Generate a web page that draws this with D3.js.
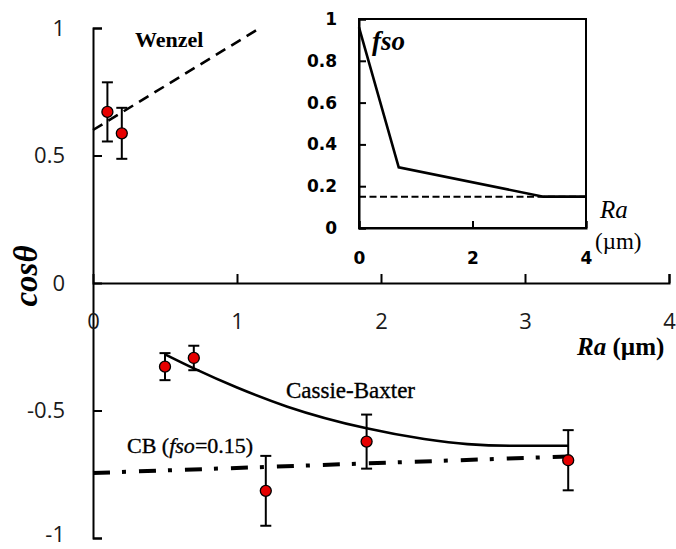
<!DOCTYPE html>
<html>
<head>
<meta charset="utf-8">
<script src="https://cdn.jsdelivr.net/npm/d3@7"></script>
<style>
  html, body { margin: 0; padding: 0; background: #fff; }
  svg { display: block; }
</style>
</head>
<body>
<svg id="chart" width="676" height="549"></svg>
<script>
// Measured contact angles (cos θ) against roughness Ra, with error bars
const wenzelRa = [0.1, 0.2];
const wenzelCos = [0.671, 0.587];
const wenzelErr = [0.116, 0.1];

const cassieRa = [0.5, 0.7, 1.2, 1.9, 3.3];
const cassieCos = [-0.328, -0.294, -0.815, -0.622, -0.695];
const cassieErr = [0.053, 0.048, 0.137, 0.106, 0.118];

// Wenzel model line
const wenzelLineRa = [0, 1.16];
const wenzelLineCos = [0.6, 1.0];

// Cassie-Baxter model curve
const cbCurveRa = [0.5, 0.7, 1.0, 1.35, 1.9, 2.3, 2.6, 2.9, 3.3];
const cbCurveCos = [-0.28, -0.335, -0.41, -0.485, -0.57, -0.612, -0.632, -0.638, -0.638];

// Cassie-Baxter with constant fso = 0.15
const cbConstRa = [0, 3.3];
const cbConstCos = [-0.745, -0.68];

// Inset: solid fraction fso against Ra
const fsoRa = [0, 0.7, 3.25, 4];
const fsoVal = [0.96, 0.29, 0.15, 0.15];
const fsoConstRa = [0, 4];
const fsoConstVal = [0.15, 0.15];

// Tick values
const mainXTicks = [0, 1, 2, 3, 4];
const mainYTicks = [-1, -0.5, 0, 0.5, 1];
const insetXTicks = [0, 2, 4];
const insetYTicks = [0, 0.2, 0.4, 0.6, 0.8, 1];

const svg = d3.select("#chart");

const x = d3.scaleLinear().domain([0, 4]).range([93, 669]);
const y = d3.scaleLinear().domain([-1, 1]).range([538, 28]);

const tickFont = "'Open Sans', sans-serif";
const serif = "'Liberation Serif', 'Times New Roman', serif";
const plain = d => String(d);

// ---- main axes ----
const yAxis = d3.axisLeft(y).tickValues(mainYTicks).tickSize(-9).tickPadding(28)
  .tickFormat(plain);
const gy = svg.append("g").attr("transform", `translate(${x(0)},0)`).call(yAxis);

const xAxis = d3.axisBottom(x).tickValues(mainXTicks).tickSize(-9).tickPadding(30)
  .tickFormat(plain);
const gx = svg.append("g").attr("transform", `translate(0,${y(0)})`).call(xAxis);

[gx, gy].forEach(g => {
  g.select(".domain").attr("stroke", "#000").attr("stroke-width", 2);
  g.selectAll(".tick line").attr("stroke", "#000").attr("stroke-width", 2);
  g.selectAll(".tick text").attr("fill", "#1a1a1a")
    .style("font-family", tickFont).style("font-size", "22px");
});
gx.selectAll(".tick").filter(d => d === 0).select("line").remove();
// keep the lowest label inside the frame
gy.selectAll(".tick").filter(d => d === -1).select("text").attr("dy", "0.18em");

// ---- model lines ----
const line = d3.line().x(d => x(d[0])).y(d => y(d[1]));

svg.append("path")
  .datum(d3.zip(wenzelLineRa, wenzelLineCos))
  .attr("d", line)
  .attr("fill", "none").attr("stroke", "#000").attr("stroke-width", 2.6)
  .attr("stroke-dasharray", "11,7");

svg.append("path")
  .datum(d3.zip(cbConstRa, cbConstCos))
  .attr("d", line)
  .attr("fill", "none").attr("stroke", "#000").attr("stroke-width", 4)
  .attr("stroke-dasharray", "17,12,4,13");

svg.append("path")
  .datum(d3.zip(cbCurveRa, cbCurveCos))
  .attr("d", line.curve(d3.curveMonotoneX))
  .attr("fill", "none").attr("stroke", "#000").attr("stroke-width", 2.6);

// ---- data points with error bars ----
function drawPoints(ra, cos, err) {
  const data = ra.map((r, i) => ({ r, c: cos[i], e: err[i] }));
  const g = svg.append("g");
  const cap = 5.5;
  data.forEach(d => {
    const px = x(d.r);
    g.append("line").attr("x1", px).attr("x2", px)
      .attr("y1", y(d.c + d.e)).attr("y2", y(d.c - d.e))
      .attr("stroke", "#000").attr("stroke-width", 2);
    [d.c + d.e, d.c - d.e].forEach(v => {
      g.append("line").attr("x1", px - cap).attr("x2", px + cap)
        .attr("y1", y(v)).attr("y2", y(v))
        .attr("stroke", "#000").attr("stroke-width", 2);
    });
  });
  g.selectAll("circle").data(data).join("circle")
    .attr("cx", d => x(d.r)).attr("cy", d => y(d.c)).attr("r", 5.5)
    .attr("fill", "#e60000").attr("stroke", "#000").attr("stroke-width", 1.3);
}
drawPoints(wenzelRa, wenzelCos, wenzelErr);
drawPoints(cassieRa, cassieCos, cassieErr);

// ---- main labels ----
svg.append("text").attr("x", 135).attr("y", 47)
  .style("font-family", serif).style("font-size", "22px").style("font-weight", "bold")
  .text("Wenzel");

svg.append("text").attr("x", 286).attr("y", 398)
  .style("font-family", serif).style("font-size", "23px")
  .attr("stroke", "#000").attr("stroke-width", 0.35)
  .text("Cassie-Baxter");

const cbLabel = svg.append("text").attr("x", 127).attr("y", 453)
  .style("font-family", serif).style("font-size", "22px")
  .attr("stroke", "#000").attr("stroke-width", 0.35);
cbLabel.append("tspan").text("CB (");
cbLabel.append("tspan").style("font-style", "italic").text("fso");
cbLabel.append("tspan").text("=0.15)");

const xl = svg.append("text").attr("x", 577).attr("y", 355)
  .style("font-family", serif).style("font-size", "25px");
xl.append("tspan").style("font-style", "italic").style("font-weight", "bold").text("Ra");
xl.append("tspan").style("font-weight", "bold").text(" (µm)");

svg.append("text")
  .attr("transform", "translate(37,276) rotate(-90)")
  .attr("text-anchor", "middle")
  .style("font-family", serif).style("font-size", "33px")
  .style("font-style", "italic").style("font-weight", "bold")
  .text("cosθ");

// ---- inset ----
const ix = d3.scaleLinear().domain([0, 4]).range([359, 586]);
const iy = d3.scaleLinear().domain([0, 1]).range([228, 19]);

const inset = svg.append("g");
inset.append("rect").attr("x", ix(0)).attr("y", iy(1))
  .attr("width", ix(4) - ix(0)).attr("height", iy(0) - iy(1))
  .attr("fill", "#fff").attr("stroke", "#000").attr("stroke-width", 2);

const iyAxis = d3.axisLeft(iy).tickValues(insetYTicks).tickSize(-7).tickPadding(22)
  .tickFormat(plain);
const giy = inset.append("g").attr("transform", `translate(${ix(0)},0)`).call(iyAxis);
const ixAxis = d3.axisBottom(ix).tickValues(insetXTicks).tickSize(-7).tickPadding(24)
  .tickFormat(plain);
const gix = inset.append("g").attr("transform", `translate(0,${iy(0)})`).call(ixAxis);
[giy, gix].forEach(g => {
  g.select(".domain").attr("stroke", "#000").attr("stroke-width", 2);
  g.selectAll(".tick line").attr("stroke", "#000").attr("stroke-width", 2);
  g.selectAll(".tick text").attr("fill", "#000")
    .style("font-family", "'DejaVu Sans', sans-serif").style("font-size", "17px")
    .style("font-weight", "bold");
});

const iline = d3.line().x(d => ix(d[0])).y(d => iy(d[1]));
inset.append("path").datum(d3.zip(fsoConstRa, fsoConstVal)).attr("d", iline)
  .attr("fill", "none").attr("stroke", "#000").attr("stroke-width", 2)
  .attr("stroke-dasharray", "7,3.5");
inset.append("path").datum(d3.zip(fsoRa, fsoVal)).attr("d", iline)
  .attr("fill", "none").attr("stroke", "#000").attr("stroke-width", 2.6);

inset.append("text").attr("x", 372).attr("y", 50)
  .style("font-family", serif).style("font-size", "27px")
  .style("font-style", "italic").style("font-weight", "bold")
  .text("fso");
inset.append("text").attr("x", 600).attr("y", 218)
  .style("font-family", serif).style("font-size", "25px").style("font-style", "italic")
  .text("Ra");
inset.append("text").attr("x", 595).attr("y", 249)
  .style("font-family", serif).style("font-size", "23px")
  .text("(µm)");
</script>
</body>
</html>
